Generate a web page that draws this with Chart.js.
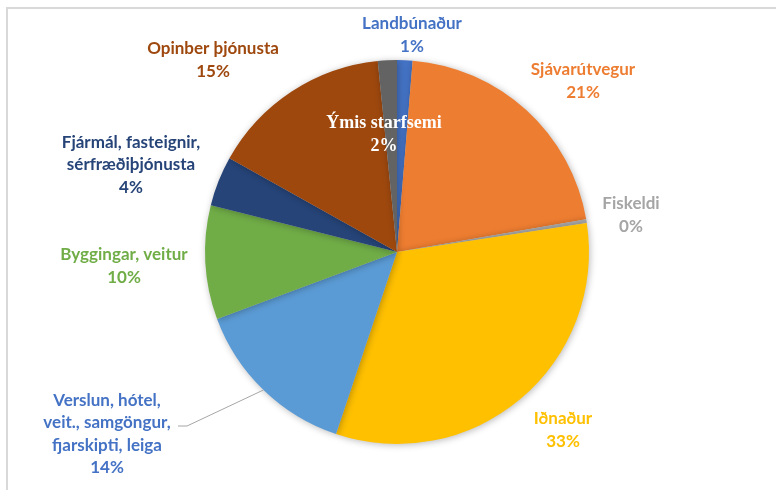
<!DOCTYPE html>
<html>
<head>
<meta charset="utf-8">
<script src="https://cdn.jsdelivr.net/npm/chart.js@4.4.1/dist/chart.umd.min.js"></script>
<style>
  body { margin: 0; background: #fff; }
  canvas { display: block; }
</style>
</head>
<body>
<canvas id="pieChart" width="776" height="490"></canvas>
<script>
// Sectors, clockwise from 12 o'clock
const categories = ['Landbúnaður', 'Sjávarútvegur', 'Fiskeldi', 'Iðnaður',
    'Verslun, hótel,\nveit., samgöngur,\nfjarskipti, leiga', 'Byggingar, veitur',
    'Fjármál, fasteignir,\nsérfræðiþjónusta', 'Opinber þjónusta', 'Ýmis starfsemi'];
const shares = [1.3, 21.0, 0.3, 32.6, 14.2, 9.6, 4.2, 15.3, 1.6];
const colors = ['#4472C4', '#ED7D31', '#A5A5A5', '#FFC000', '#5B9BD5',
    '#70AD47', '#264478', '#9E480E', '#636363'];

// Label placement, offset from pie centre in px (layout only)
const labelOffsets = [
    [15, -217], [186, -171], [234, -37], [166, 178],
    [-290, 182], [-273, 14], [-266, -87], [-184, -192], [-13, -117]
];
const labelColors = ['#4472C4', '#ED7D31', '#A5A5A5', '#FFC000', '#4472C4',
    '#70AD47', '#264478', '#9E480E', '#ffffff'];

const total = shares.reduce((a, b) => a + b, 0);

// Frame around the chart and the soft pie shadow
const framePlugin = {
    id: 'frame',
    beforeDraw(chart) {
        const c = chart.ctx;
        c.save();
        c.strokeStyle = '#d9d9d9';
        c.lineWidth = 2;
        c.beginPath();
        c.moveTo(7, chart.height);
        c.lineTo(7, 8);
        c.lineTo(chart.width, 8);
        c.stroke();
        c.restore();
    },
    beforeDatasetsDraw(chart) {
        const c = chart.ctx;
        c.save();
        c.shadowColor = 'rgba(0,0,0,0.28)';
        c.shadowBlur = 7;
        c.shadowOffsetX = 1;
        c.shadowOffsetY = 1;
    },
    afterDatasetsDraw(chart) {
        chart.ctx.restore();
    }
};

// Category name + percentage labels drawn like Excel data labels
const labelPlugin = {
    id: 'sliceLabels',
    afterDraw(chart) {
        const c = chart.ctx;
        const arcs = chart.getDatasetMeta(0).data;
        const cx = arcs[0].x, cy = arcs[0].y;
        c.save();
        c.textAlign = 'center';
        c.textBaseline = 'middle';
        arcs.forEach((arc, i) => {
            const pct = Math.round(shares[i] / total * 100) + '%';
            const lines = categories[i].split('\n').concat(pct);
            const lh = 22.5;
            const x = cx + labelOffsets[i][0];
            const y = cy + labelOffsets[i][1] - (lines.length - 1) * lh / 2;
            c.fillStyle = labelColors[i];
            c.font = i === 8 ? 'bold 18px "Liberation Serif"' : 'bold 17px Lato';
            lines.forEach((t, k) => c.fillText(t, x, y + k * lh));
        });

        // leader line for the Verslun label
        const a = arcs[4];
        const mid = (a.startAngle + a.endAngle) / 2;
        const sx = cx + Math.cos(mid) * a.outerRadius;
        const sy = cy + Math.sin(mid) * a.outerRadius;
        c.strokeStyle = '#a6a6a6';
        c.lineWidth = 1;
        c.beginPath();
        c.moveTo(sx, sy);
        c.lineTo(cx - 210, cy + 174);
        c.lineTo(cx - 219, cy + 174);
        c.stroke();
        c.restore();
    }
};

new Chart(document.getElementById('pieChart'), {
    type: 'pie',
    data: {
        labels: categories,
        datasets: [{
            data: shares,
            backgroundColor: colors,
            borderWidth: 0
        }]
    },
    options: {
        responsive: false,
        animation: false,
        layout: { padding: { left: 205, right: 187, top: 60, bottom: 46 } },
        plugins: {
            legend: { display: false },
            tooltip: { enabled: false }
        }
    },
    plugins: [framePlugin, labelPlugin]
});
</script>
</body>
</html>
